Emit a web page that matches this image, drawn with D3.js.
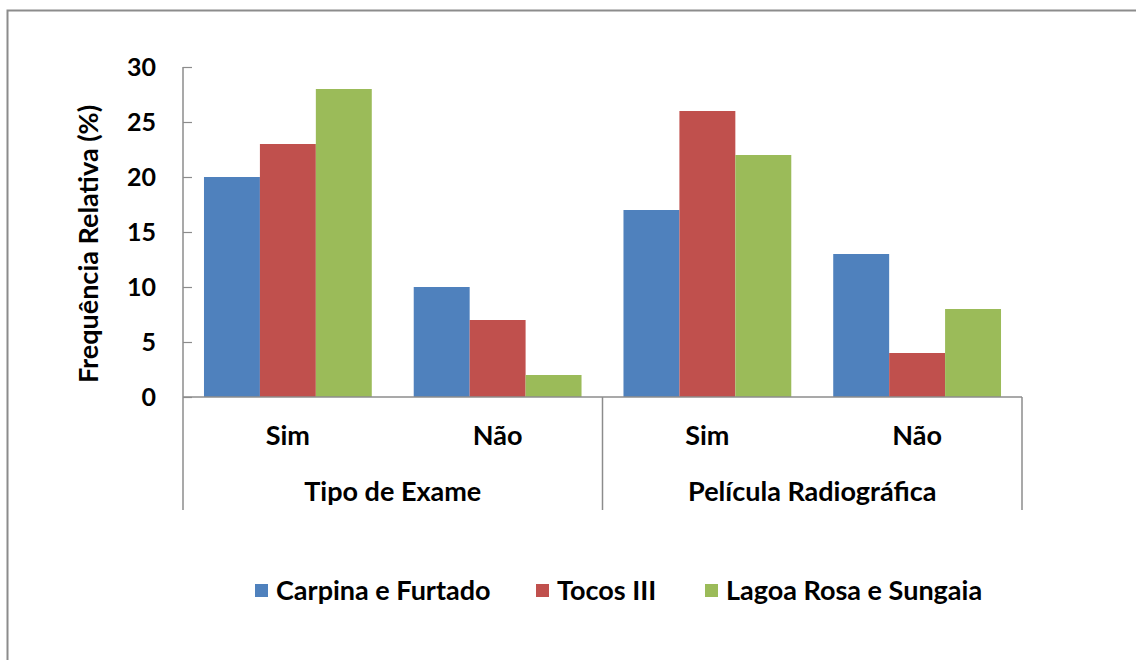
<!DOCTYPE html>
<html>
<head>
<meta charset="utf-8">
<script src="https://cdn.jsdelivr.net/npm/d3@7"></script>
<style>
  html, body { margin: 0; padding: 0; background: #fff; }
  svg { display: block; }
  text { font-family: Lato, "Open Sans", sans-serif; font-weight: bold; fill: #000; }
</style>
</head>
<body>
<svg id="chart" width="1136" height="660"></svg>
<script>
// Grouped bar chart: relative frequency (%) by exam type and radiographic film
const groups = ["Tipo de Exame", "Película Radiográfica"];
const answers = ["Sim", "Não"];
const series = ["Carpina e Furtado", "Tocos III", "Lagoa Rosa e Sungaia"];
const colors = ["#4F81BD", "#C0504D", "#9BBB59"];
// values per series, in category order: Tipo de Exame Sim, Não, Película Sim, Não
const carpina = [20, 10, 17, 13];
const tocos = [23, 7, 26, 4];
const lagoa = [28, 2, 22, 8];
const yTicks = [0, 5, 10, 15, 20, 25, 30];
const yTitle = "Frequência Relativa (%)";

const values = [carpina, tocos, lagoa];
const categories = [];
groups.forEach(g => answers.forEach(a => categories.push({ group: g, answer: a, key: g + "|" + a })));

const svg = d3.select("#chart");

// outer frame
svg.append("rect")
  .attr("x", 7.5).attr("y", 10.5)
  .attr("width", 1200).attr("height", 700)
  .attr("fill", "none").attr("stroke", "#8c8c8c").attr("stroke-width", 2);

const plot = { left: 183, right: 1022, top: 67, bottom: 397 };

const x0 = d3.scaleBand()
  .domain(categories.map(c => c.key))
  .range([plot.left, plot.right])
  .paddingInner(0).paddingOuter(0);

const x1 = d3.scaleBand()
  .domain(series)
  .range([0, x0.bandwidth()])
  .paddingInner(0).paddingOuter(0.375);

const y = d3.scaleLinear().domain([0, 30]).range([plot.bottom, plot.top]);

// bars
const g = svg.append("g");
series.forEach((s, si) => {
  g.selectAll(null)
    .data(categories.map((c, ci) => ({ c, v: values[si][ci] })))
    .enter().append("rect")
    .attr("x", d => x0(d.c.key) + x1(s))
    .attr("y", d => y(d.v))
    .attr("width", x1.bandwidth())
    .attr("height", d => y(0) - y(d.v))
    .attr("fill", colors[si]);
});

// y axis
const yAxis = d3.axisRight(y).tickValues(yTicks).tickSize(9).tickFormat("");
const ya = svg.append("g").attr("transform", `translate(${plot.left},0)`).call(yAxis);
ya.select(".domain").remove();
ya.selectAll(".tick line").attr("stroke", "#8c8c8c").attr("stroke-width", 1.2);
svg.append("line")
  .attr("x1", plot.left).attr("x2", plot.left)
  .attr("y1", plot.top).attr("y2", 510)
  .attr("stroke", "#8c8c8c").attr("stroke-width", 1.5);

svg.append("g").selectAll("text")
  .data(yTicks).enter().append("text")
  .attr("x", 156).attr("y", d => y(d))
  .attr("dy", "0.36em")
  .attr("text-anchor", "end")
  .style("font-size", "25px")
  .text(d => d);

// baseline
svg.append("line")
  .attr("x1", plot.left).attr("x2", plot.right)
  .attr("y1", y(0)).attr("y2", y(0))
  .attr("stroke", "#8c8c8c").attr("stroke-width", 1.5);

// group separators
const groupEdges = [x0(categories[2].key), plot.right];
svg.selectAll(".sep").data(groupEdges).enter().append("line")
  .attr("x1", d => d).attr("x2", d => d)
  .attr("y1", y(0)).attr("y2", 510)
  .attr("stroke", "#8c8c8c").attr("stroke-width", 1.5);

// category labels
svg.append("g").selectAll("text")
  .data(categories).enter().append("text")
  .attr("x", d => x0(d.key) + x0.bandwidth() / 2)
  .attr("y", 445)
  .attr("text-anchor", "middle")
  .style("font-size", "27px")
  .text(d => d.answer);

// group labels
svg.append("g").selectAll("text")
  .data(groups).enter().append("text")
  .attr("x", (d, i) => x0(categories[i * 2].key) + x0.bandwidth())
  .attr("y", 501)
  .attr("text-anchor", "middle")
  .style("font-size", "27px")
  .text(d => d);

// y axis title
svg.append("text")
  .attr("transform", `translate(98,${(100 + 388) / 2}) rotate(-90)`)
  .attr("text-anchor", "middle")
  .style("font-size", "27px")
  .text(yTitle);

// legend
const legendX = [255, 536, 705];
const lg = svg.append("g");
series.forEach((s, i) => {
  lg.append("rect")
    .attr("x", legendX[i]).attr("y", 584)
    .attr("width", 13).attr("height", 13)
    .attr("fill", colors[i]);
  lg.append("text")
    .attr("x", legendX[i] + 21).attr("y", 600)
    .style("font-size", "27px")
    .text(s);
});
</script>
</body>
</html>
